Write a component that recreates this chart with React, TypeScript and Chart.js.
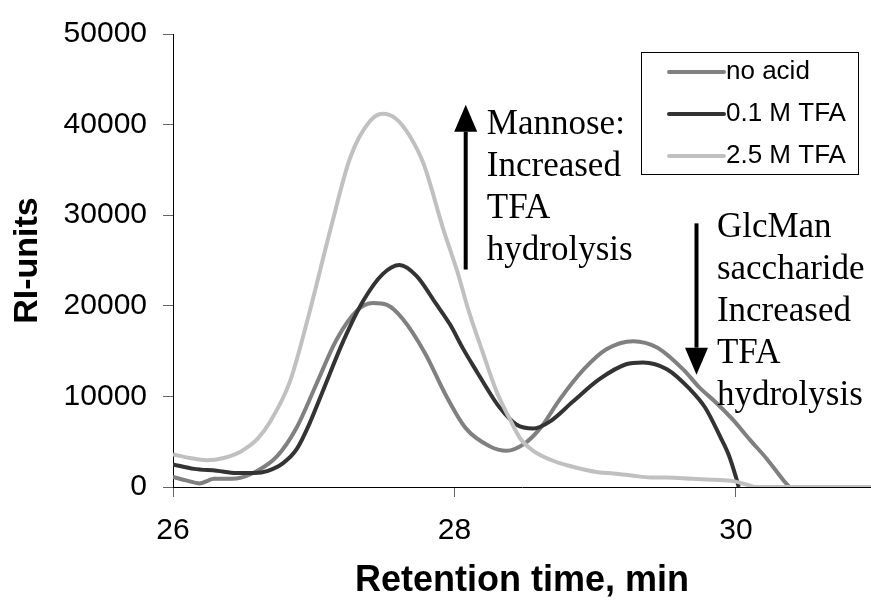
import { useEffect, useRef } from "react";
import { Chart, registerables } from "chart.js";

Chart.register(...registerables);

// Retention time (min) and refractive-index signal for each sample
const noAcidTime = [26.0, 26.1, 26.19, 26.29, 26.45, 26.59, 26.74, 26.88, 27.02, 27.16, 27.31, 27.42, 27.52, 27.63, 27.79, 27.94, 28.08, 28.25, 28.37, 28.49, 28.61, 28.75, 28.92, 29.08, 29.27, 29.44, 29.63, 29.74, 29.86, 29.98, 30.1, 30.22, 30.34, 30.38];
const noAcidRI = [1100, 700, 400, 900, 950, 1700, 3400, 6600, 11400, 16200, 19500, 20300, 20100, 18600, 14800, 10100, 6500, 4500, 4000, 4700, 6500, 9700, 13000, 15200, 16100, 15400, 12900, 11000, 9300, 7400, 5200, 3100, 700, 0];

const tfa01Time = [26.0, 26.15, 26.31, 26.45, 26.58, 26.67, 26.78, 26.88, 26.97, 27.07, 27.21, 27.35, 27.49, 27.61, 27.73, 27.87, 27.97, 28.06, 28.16, 28.25, 28.32, 28.44, 28.56, 28.68, 28.84, 29.03, 29.22, 29.34, 29.51, 29.67, 29.78, 29.89, 29.95, 30.0, 30.02];
const tfa01RI = [2500, 2000, 1800, 1550, 1550, 1750, 2600, 4200, 7000, 10800, 16100, 20500, 23500, 24500, 23300, 20200, 17900, 15300, 12700, 10400, 8800, 6900, 6450, 7250, 9400, 11900, 13550, 13750, 13000, 10850, 8800, 5500, 3500, 1100, 0];

const tfa25Time = [26.0, 26.12, 26.24, 26.36, 26.48, 26.6, 26.69, 26.83, 26.97, 27.12, 27.26, 27.4, 27.49, 27.58, 27.68, 27.78, 27.92, 28.02, 28.1, 28.2, 28.3, 28.39, 28.47, 28.56, 28.7, 28.8, 29.03, 29.13, 29.27, 29.39, 29.51, 29.69, 29.85, 29.98, 30.08, 30.14, 31.0];
const tfa25RI = [3600, 3200, 2950, 3200, 3900, 5300, 7200, 11600, 19300, 28500, 36400, 40400, 41200, 40700, 38800, 35700, 28500, 23800, 19500, 14900, 10500, 7600, 5300, 4000, 2900, 2400, 1600, 1500, 1250, 1050, 1050, 900, 800, 650, 250, 0, 0];

const seriesLabels = ["no acid", "0.1 M TFA", "2.5 M TFA"];
const seriesColors = ["#808080", "#333333", "#c0c0c0"];

const xTickValues = [26, 28, 30];
const yTickStep = 10000;

const mannoseNote = ["Mannose:", "Increased", "TFA", "hydrolysis"];
const glcManNote = ["GlcMan", "saccharide", "Increased", "TFA", "hydrolysis"];

const SANS = '"Liberation Sans", Arial, sans-serif';
const SERIF = '"Liberation Serif", "Times New Roman", serif';

const toPoints = (t: number[], v: number[]) => t.map((x, i) => ({ x, y: v[i] }));

function drawArrow(ctx: CanvasRenderingContext2D, px: number, fromY: number, tipY: number) {
  const dir = tipY < fromY ? -1 : 1;
  const headLen = 27;
  const headHalf = 11.5;
  const baseY = tipY - dir * headLen;
  ctx.beginPath();
  ctx.lineWidth = 4;
  ctx.strokeStyle = "#000";
  ctx.moveTo(px, fromY);
  ctx.lineTo(px, baseY);
  ctx.stroke();
  ctx.beginPath();
  ctx.fillStyle = "#000";
  ctx.moveTo(px, tipY);
  ctx.lineTo(px - headHalf, baseY);
  ctx.lineTo(px + headHalf, baseY);
  ctx.closePath();
  ctx.fill();
}

const notesPlugin = {
  id: "notes",
  afterDatasetsDraw(chart: any) {
    const { ctx, chartArea, scales } = chart;
    const x = scales.x;
    const y = scales.y;
    ctx.save();

    // arrows with their explanations
    drawArrow(ctx, x.getPixelForValue(28.08), y.getPixelForValue(24000), y.getPixelForValue(42200));
    drawArrow(ctx, x.getPixelForValue(29.72), y.getPixelForValue(29100), y.getPixelForValue(12400));

    ctx.font = `35px ${SERIF}`;
    ctx.fillStyle = "#000";
    ctx.textAlign = "left";
    ctx.textBaseline = "alphabetic";
    const lineGap = 42;
    const mx = x.getPixelForValue(28.23);
    const my = y.getPixelForValue(39000);
    mannoseNote.forEach((s, i) => ctx.fillText(s, mx, my + i * lineGap));
    const gx = x.getPixelForValue(29.865);
    const gy = y.getPixelForValue(27600);
    glcManNote.forEach((s, i) => ctx.fillText(s, gx, gy + i * lineGap));

    // boxed legend in the upper right of the plot
    const left = chartArea.right - 230;
    const top = chartArea.top + 18;
    ctx.lineWidth = 1;
    ctx.strokeStyle = "#000";
    ctx.fillStyle = "#fff";
    ctx.fillRect(left + 0.5, top + 0.5, 217, 122);
    ctx.strokeRect(left + 0.5, top + 0.5, 217, 122);
    ctx.font = `26px ${SANS}`;
    ctx.textBaseline = "middle";
    seriesLabels.forEach((label, i) => {
      const ry = top + 20 + i * 42;
      ctx.beginPath();
      ctx.lineWidth = 4;
      ctx.lineCap = "round";
      ctx.strokeStyle = seriesColors[i];
      ctx.moveTo(left + 28, ry);
      ctx.lineTo(left + 83, ry);
      ctx.stroke();
      ctx.fillStyle = "#000";
      ctx.fillText(label, left + 85, ry);
    });
    ctx.restore();
  },
};

export default function App() {
  const canvasRef = useRef<HTMLCanvasElement>(null);

  useEffect(() => {
    const canvas = canvasRef.current;
    if (!canvas) return;
    const series = [
      toPoints(noAcidTime, noAcidRI),
      toPoints(tfa01Time, tfa01RI),
      toPoints(tfa25Time, tfa25RI),
    ];
    const chart = new Chart(canvas, {
      type: "line",
      data: {
        datasets: series.map((data, i) => ({
          label: seriesLabels[i],
          data,
          borderColor: seriesColors[i],
          backgroundColor: seriesColors[i],
          borderWidth: 4,
          pointRadius: 0,
          fill: false,
          cubicInterpolationMode: "monotone" as const,
          order: 3 - i,
        })),
      },
      options: {
        animation: false,
        responsive: false,
        devicePixelRatio: 1,
        events: [],
        layout: { padding: { top: 25, left: 0, right: 0, bottom: 0 } },
        plugins: {
          legend: { display: false },
          tooltip: { enabled: false },
        },
        scales: {
          x: {
            type: "linear",
            min: 26,
            max: 30.96,
            afterBuildTicks: (s: any) => {
              s.ticks = xTickValues.map((value) => ({ value }));
            },
            afterFit: (s: any) => {
              s.height = 117;
            },
            grid: { drawOnChartArea: false, tickLength: 10, color: "#666" },
            border: { color: "#000", width: 1 },
            ticks: {
              color: "#000",
              font: { family: SANS, size: 30 },
              padding: 16,
              maxRotation: 0,
              autoSkip: false,
            },
            title: {
              display: true,
              text: "Retention time, min",
              color: "#000",
              font: { family: SANS, size: 36, weight: "bold" },
              padding: { top: 0, bottom: 1 },
            },
          },
          y: {
            min: 0,
            max: 50000,
            afterFit: (s: any) => {
              s.width = 173;
            },
            grid: { drawOnChartArea: false, tickLength: 10, color: "#666" },
            border: { color: "#000", width: 1 },
            ticks: {
              stepSize: yTickStep,
              color: "#000",
              font: { family: SANS, size: 30 },
              padding: 16,
              callback: (v: any) => String(v),
            },
            title: {
              display: true,
              text: "RI-units",
              color: "#000",
              font: { family: SANS, size: 34, weight: "bold" },
              padding: { top: 7, bottom: 0 },
            },
          },
        },
      },
      plugins: [notesPlugin],
    });
    return () => chart.destroy();
  }, []);

  return (
    <div style={{ position: "absolute", left: 0, top: 0, width: 871, height: 604, background: "#fff" }}>
      <canvas ref={canvasRef} width={871} height={604} style={{ display: "block" }} />
    </div>
  );
}
